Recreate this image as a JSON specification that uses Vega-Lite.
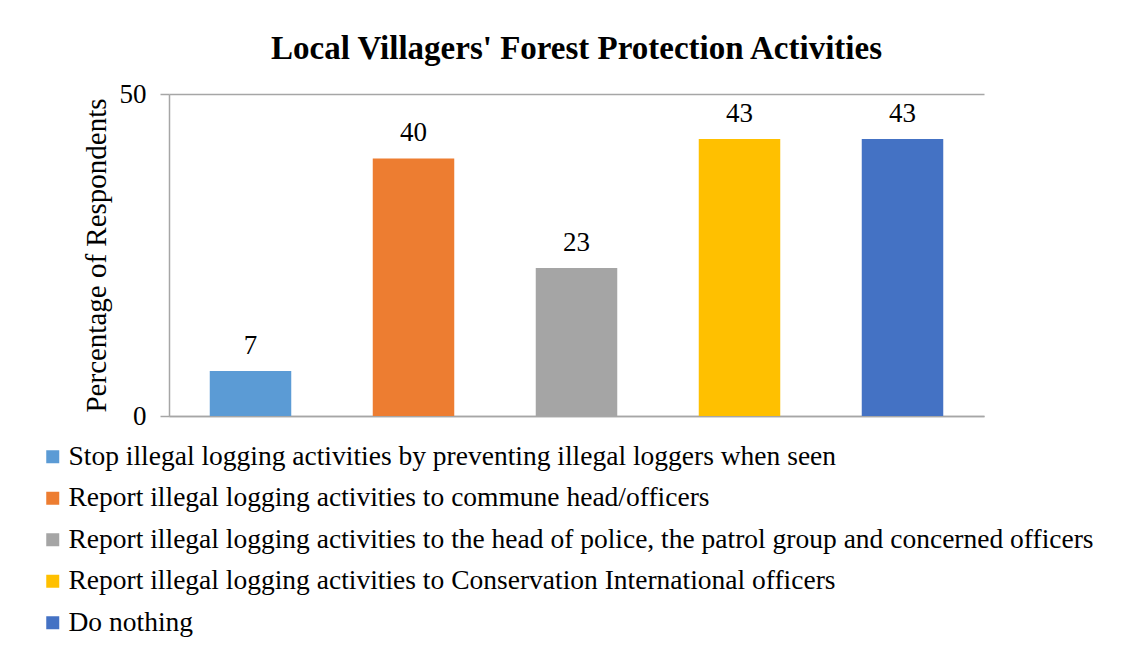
{
  "$schema": "https://vega.github.io/schema/vega-lite/v6.json",
  "autosize": "none",
  "width": 815,
  "height": 322,
  "padding": {"left": 169, "top": 94, "right": 152, "bottom": 230},
  "background": "white",
  "config": {
    "view": {"stroke": null},
    "font": "Liberation Serif",
    "title": {"font": "Liberation Serif", "fontSize": 33, "fontWeight": "bold", "color": "black", "anchor": "middle", "offset": 14}
  },
  "title": "Local Villagers' Forest Protection Activities",
  "data": {
    "values": [
      {"activity": "Stop illegal logging activities by preventing illegal loggers when seen", "pct": 7},
      {"activity": "Report illegal logging activities to commune head/officers", "pct": 40},
      {"activity": "Report illegal logging activities to the head of police, the patrol group and concerned officers", "pct": 23},
      {"activity": "Report illegal logging activities to Conservation International officers", "pct": 43},
      {"activity": "Do nothing", "pct": 43}
    ]
  },
  "encoding": {
    "x": {
      "field": "activity", "type": "nominal", "sort": null,
      "scale": {"paddingInner": 0.5, "paddingOuter": 0.25},
      "axis": {"title": null, "labels": false, "ticks": false, "domainColor": "#A6A6A6", "domainWidth": 1.5}
    },
    "y": {
      "field": "pct", "type": "quantitative",
      "scale": {"domain": [0, 50], "nice": false},
      "axis": {
        "title": "Percentage of Respondents", "titleFont": "Liberation Serif", "titleFontSize": 29, "titleFontWeight": "normal", "titleColor": "black", "titlePadding": 8,
        "values": [0, 50], "labelFont": "Liberation Serif", "labelFontSize": 27, "labelColor": "black", "labelPadding": 14,
        "tickSize": 9, "tickColor": "#A6A6A6", "tickWidth": 1.5,
        "domainColor": "#A6A6A6", "domainWidth": 1.5,
        "grid": true, "gridColor": "#A6A6A6", "gridWidth": 1.5
      }
    }
  },
  "layer": [
    {
      "mark": {"type": "bar"},
      "encoding": {
        "color": {
          "field": "activity", "type": "nominal", "sort": null,
          "scale": {"range": ["#5B9BD5", "#ED7D31", "#A5A5A5", "#FFC000", "#4472C4"]},
          "legend": {
            "title": null, "orient": "none", "legendX": -130, "legendY": 349,
            "direction": "vertical", "symbolType": "square", "symbolSize": 169, "symbolStrokeWidth": 0,
            "labelFont": "Liberation Serif", "labelFontSize": 27.5, "labelColor": "black", "labelLimit": 1200, "labelOffset": 2,
            "rowPadding": 12.5
          }
        }
      }
    },
    {
      "mark": {"type": "text", "baseline": "alphabetic", "dy": -17, "fontSize": 27, "font": "Liberation Serif", "color": "black"},
      "encoding": {"text": {"field": "pct", "type": "quantitative"}}
    }
  ]
}
